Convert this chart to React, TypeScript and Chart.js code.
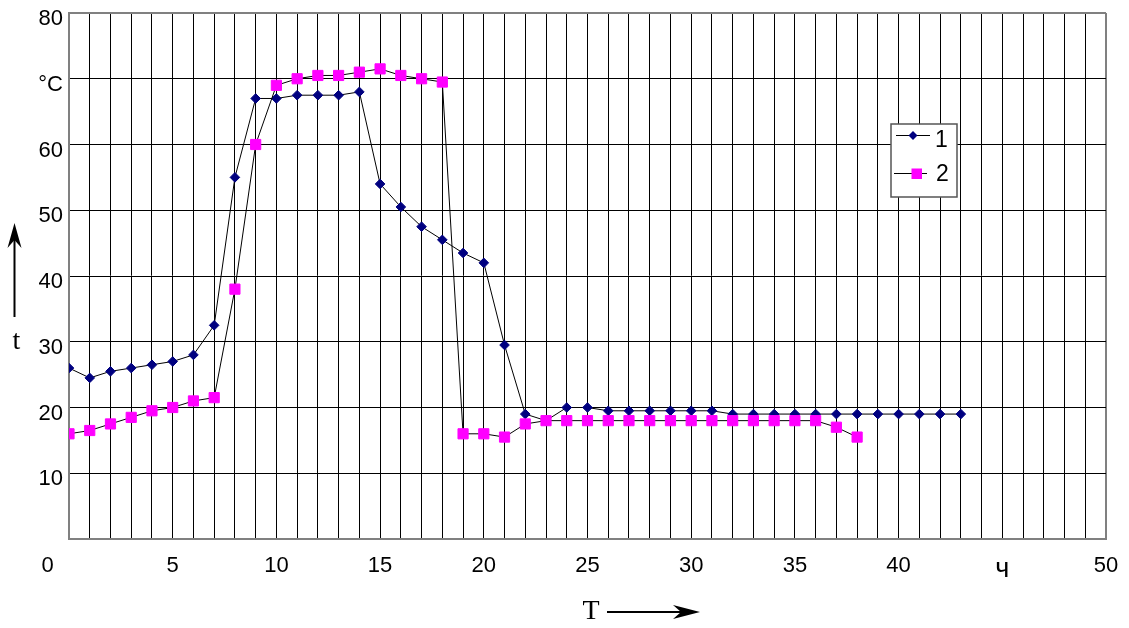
import React, { useEffect, useRef } from 'react';
import { Chart, registerables } from 'chart.js';

Chart.register(...registerables);

// ---- data ----
const SERIES1_LABEL = '1';
const SERIES2_LABEL = '2';

const hours1 = [0, 1, 2, 3, 4, 5, 6, 7, 8, 9, 10, 11, 12, 13, 14, 15, 16, 17, 18, 19, 20, 21, 22, 23, 24, 25, 26, 27, 28, 29, 30, 31, 32, 33, 34, 35, 36, 37, 38, 39, 40, 41, 42, 43];
const temps1 = [26, 24.5, 25.5, 26, 26.5, 27, 28, 32.5, 55, 67, 67, 67.5, 67.5, 67.5, 68, 54, 50.5, 47.5, 45.5, 43.5, 42, 29.5, 19, 18, 20, 20, 19.5, 19.5, 19.5, 19.5, 19.5, 19.5, 19, 19, 19, 19, 19, 19, 19, 19, 19, 19, 19, 19];

const hours2 = [0, 1, 2, 3, 4, 5, 6, 7, 8, 9, 10, 11, 12, 13, 14, 15, 16, 17, 18, 19, 20, 21, 22, 23, 24, 25, 26, 27, 28, 29, 30, 31, 32, 33, 34, 35, 36, 37, 38];
const temps2 = [16, 16.5, 17.5, 18.5, 19.5, 20, 21, 21.5, 38, 60, 69, 70, 70.5, 70.5, 71, 71.5, 70.5, 70, 69.5, 16, 16, 15.5, 17.5, 18, 18, 18, 18, 18, 18, 18, 18, 18, 18, 18, 18, 18, 18, 17, 15.5];

const xTickValues = [0, 5, 10, 15, 20, 25, 30, 35, 40, 45, 50];
const xTickLabels = ['0', '5', '10', '15', '20', '25', '30', '35', '40', 'ч', '50'];
const yTickValues = [10, 20, 30, 40, 50, 60, 70, 80];
const yTickLabels = ['10', '20', '30', '40', '50', '60', '°C', '80'];

const X_AXIS_TITLE = 'T';
const Y_AXIS_TITLE = 't';

// ---- style ----
const NAVY = '#000080';
const MAGENTA = '#FF00FF';
const FRAME = '#808080';
const SANS = "Arial, 'Liberation Sans', sans-serif";
const SERIF = "'Times New Roman', 'Liberation Serif', serif";

function drawArrowHead(ctx: CanvasRenderingContext2D, tipX: number, tipY: number, dx: number, dy: number, len: number, half: number, back: number) {
  const px = -dy;
  const py = dx;
  ctx.beginPath();
  ctx.moveTo(tipX, tipY);
  ctx.lineTo(tipX - dx * len + px * half, tipY - dy * len + py * half);
  ctx.lineTo(tipX - dx * back, tipY - dy * back);
  ctx.lineTo(tipX - dx * len - px * half, tipY - dy * len - py * half);
  ctx.closePath();
  ctx.fill();
}

const overlayPlugin = {
  id: 'overlay',
  afterDraw(chart: any) {
    const ctx: CanvasRenderingContext2D = chart.ctx;
    ctx.save();

    // legend box
    const lx = 891, ly = 124, lw = 66, lh = 73;
    ctx.fillStyle = '#ffffff';
    ctx.fillRect(lx, ly, lw, lh);
    ctx.strokeStyle = '#555555';
    ctx.lineWidth = 1.5;
    ctx.strokeRect(lx, ly, lw, lh);

    const ds = chart.data.datasets;
    // entry 1
    ctx.strokeStyle = '#000';
    ctx.lineWidth = 1;
    ctx.beginPath();
    ctx.moveTo(896, 135.5);
    ctx.lineTo(930, 135.5);
    ctx.stroke();
    ctx.fillStyle = ds[0].pointBackgroundColor;
    ctx.beginPath();
    ctx.moveTo(913, 131);
    ctx.lineTo(917.5, 135.5);
    ctx.lineTo(913, 140);
    ctx.lineTo(908.5, 135.5);
    ctx.closePath();
    ctx.fill();
    // entry 2
    ctx.strokeStyle = '#000';
    ctx.beginPath();
    ctx.moveTo(894, 173.5);
    ctx.lineTo(927, 173.5);
    ctx.stroke();
    ctx.fillStyle = ds[1].pointBackgroundColor;
    ctx.fillRect(911.5, 168.5, 10.5, 10.5);

    ctx.fillStyle = '#000';
    ctx.font = `23px ${SANS}`;
    ctx.textAlign = 'left';
    ctx.textBaseline = 'middle';
    ctx.fillText(ds[0].label, 935, 141);
    ctx.fillText(ds[1].label, 936, 175);

    // axis titles with arrows
    ctx.font = `28px ${SERIF}`;
    ctx.textAlign = 'center';
    ctx.textBaseline = 'middle';
    ctx.fillText(Y_AXIS_TITLE, 16.5, 342);
    ctx.fillText(X_AXIS_TITLE, 591, 612);

    ctx.strokeStyle = '#000';
    ctx.lineWidth = 2;
    // up arrow
    ctx.beginPath();
    ctx.moveTo(14.5, 317);
    ctx.lineTo(14.5, 235);
    ctx.stroke();
    ctx.fillStyle = '#000';
    drawArrowHead(ctx, 14.5, 223, 0, -1, 25, 7, 17);
    // right arrow
    ctx.beginPath();
    ctx.moveTo(607, 612);
    ctx.lineTo(688, 612);
    ctx.stroke();
    drawArrowHead(ctx, 700, 612, 1, 0, 27, 7, 19);

    ctx.restore();
  },
};

export default function App() {
  const ref = useRef<HTMLCanvasElement>(null);

  useEffect(() => {
    const canvas = ref.current;
    if (!canvas) return;
    const chart = new Chart(canvas, {
      type: 'line',
      data: {
        datasets: [
          {
            label: SERIES1_LABEL,
            data: hours1.map((h, i) => ({ x: h, y: temps1[i] })),
            borderColor: '#000000',
            borderWidth: 1,
            tension: 0,
            pointStyle: 'rectRot',
            pointRadius: 4.8,
            pointBackgroundColor: NAVY,
            pointBorderColor: NAVY,
            pointBorderWidth: 1,
            order: 1,
          },
          {
            label: SERIES2_LABEL,
            data: hours2.map((h, i) => ({ x: h, y: temps2[i] })),
            borderColor: '#000000',
            borderWidth: 1,
            tension: 0,
            pointStyle: 'rect',
            pointRadius: 7.2,
            pointBackgroundColor: MAGENTA,
            pointBorderColor: MAGENTA,
            pointBorderWidth: 1,
            order: 0,
          },
        ],
      },
      options: {
        animation: false,
        responsive: false,
        devicePixelRatio: 1,
        layout: { padding: { left: 0, right: 23, top: 13, bottom: 0 } },
        plugins: {
          legend: { display: false },
          tooltip: { enabled: false },
        },
        scales: {
          x: {
            type: 'linear',
            min: 0,
            max: 50,
            afterFit: (s: any) => {
              s.height = 89;
              s.paddingLeft = 0;
              s.paddingRight = 0;
            },
            grid: {
              drawTicks: false,
              color: (c: any) => (c.tick && (c.tick.value === 0 || c.tick.value === 50) ? FRAME : '#000000'),
              lineWidth: (c: any) => (c.tick && (c.tick.value === 0 || c.tick.value === 50) ? 2 : 1),
            },
            border: { color: FRAME, width: 2 },
            ticks: {
              stepSize: 1,
              autoSkip: false,
              maxRotation: 0,
              minRotation: 0,
              padding: 14,
              color: '#000000',
              font: (c: any) => ({ family: SANS, size: c.tick && c.tick.value === 45 ? 27 : 22 }),
              callback: (v: any) => {
                const i = xTickValues.indexOf(Number(v));
                if (i < 0) return '';
                return i === 0 ? xTickLabels[i] + '       ' : xTickLabels[i];
              },
            },
          },
          y: {
            type: 'linear',
            min: 0,
            max: 80,
            afterFit: (s: any) => {
              s.width = 69;
              s.paddingTop = 0;
              s.paddingBottom = 0;
            },
            grid: {
              drawTicks: false,
              color: (c: any) => (c.tick && (c.tick.value === 0 || c.tick.value === 80) ? FRAME : '#000000'),
              lineWidth: (c: any) => (c.tick && (c.tick.value === 0 || c.tick.value === 80) ? 2 : 1),
            },
            border: { color: FRAME, width: 2 },
            ticks: {
              stepSize: 10,
              padding: 6,
              labelOffset: 6,
              color: '#000000',
              font: { family: SANS, size: 22 },
              callback: (v: any) => {
                const i = yTickValues.indexOf(Number(v));
                return i < 0 ? '' : yTickLabels[i];
              },
            },
          },
        },
      },
      plugins: [overlayPlugin],
    } as any);
    return () => chart.destroy();
  }, []);

  return (
    <div style={{ position: 'absolute', left: 0, top: 0, width: 1129, height: 628, background: '#ffffff' }}>
      <canvas ref={ref} width={1129} height={628} style={{ display: 'block' }} />
    </div>
  );
}
